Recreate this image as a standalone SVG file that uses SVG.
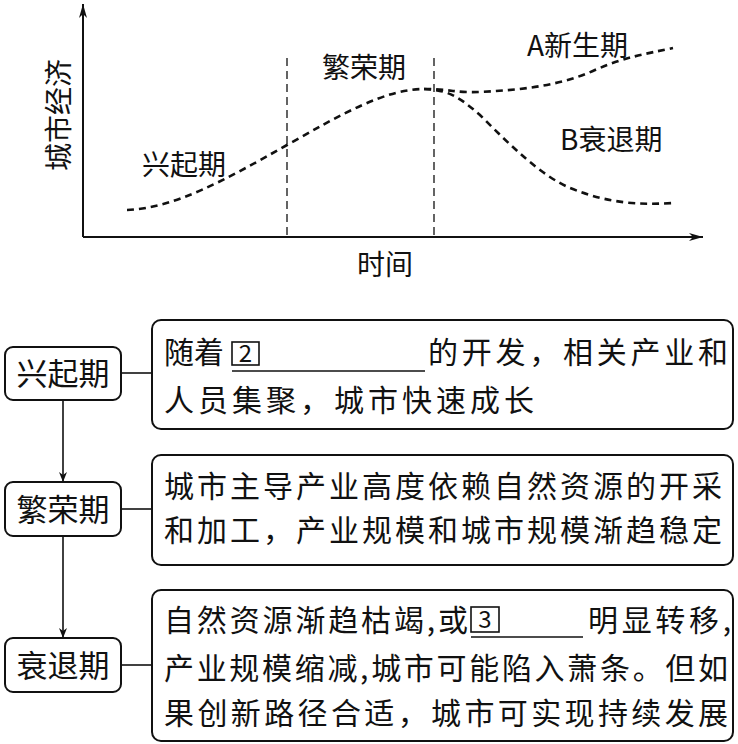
<svg xmlns="http://www.w3.org/2000/svg" width="738" height="744" viewBox="0 0 738 744">
<style>
text{font-family:"Noto Sans CJK SC","Noto Sans",sans-serif;fill:#111}
.cl{font-size:28px}
.bt{font-size:30px}
.nt{font-size:31px}
.axis{stroke:#111;stroke-width:2;fill:none}
.curve{stroke:#111;stroke-width:2.6;fill:none;stroke-dasharray:7 5}
.vd{stroke:#111;stroke-width:1.3;fill:none;stroke-dasharray:8 5}
.box{fill:#fff;stroke:#111;stroke-width:2}
.ln{stroke:#111;stroke-width:1.6;fill:none}
.blank{fill:none;stroke:#111;stroke-width:1.6}
</style>
<defs>
<marker id="ah" viewBox="0 0 10 10" refX="10" refY="5" markerWidth="10" markerHeight="10" markerUnits="userSpaceOnUse" orient="auto">
<path d="M0,1 L10,5 L0,9 L3,5 Z" fill="#111"/>
</marker>
<marker id="ax" viewBox="0 0 14 10" refX="14" refY="5" markerWidth="14" markerHeight="10" markerUnits="userSpaceOnUse" orient="auto">
<path d="M0,1 L14,5 L0,9 L4,5 Z" fill="#111"/>
</marker>
</defs>
<rect width="738" height="744" fill="#fff"/>
<g id="chart">
<line class="axis" x1="83" y1="237" x2="83" y2="4" marker-end="url(#ax)"/>
<line class="axis" x1="83" y1="237" x2="703" y2="237" marker-end="url(#ax)"/>
<line class="vd" x1="287" y1="58" x2="287" y2="237"/>
<line class="vd" x1="434" y1="58" x2="434" y2="237"/>
<path class="curve" d="M127,210 C175,208 225,180 287,145 C340,115 385,89 424,89"/>
<path class="curve" d="M424,89 C450,89 455,93 480,92 C520,90 560,86 595,70 C625,57 645,54 673,48"/>
<path class="curve" d="M424,89 C450,90 460,98 480,115 C510,145 540,175 570,188 C610,204 640,205 673,203"/>
<text class="cl" transform="translate(69,115) rotate(-90)" text-anchor="middle">城市经济</text>
<text class="cl" x="142" y="175">兴起期</text>
<text class="cl" x="322" y="78">繁荣期</text>
<text class="cl" x="527" y="56">A新生期</text>
<text class="cl" x="560" y="150">B衰退期</text>
<text class="cl" x="357" y="275">时间</text>
</g>
<g id="connectors">
<line class="ln" x1="63" y1="400" x2="63" y2="482" marker-end="url(#ah)"/>
<line class="ln" x1="63" y1="536" x2="63" y2="638" marker-end="url(#ah)"/>
<line class="ln" x1="121" y1="373" x2="152" y2="373"/>
<line class="ln" x1="121" y1="509" x2="152" y2="509"/>
<line class="ln" x1="121" y1="665" x2="152" y2="665"/>
</g>
<g id="node-xingqi">
<rect class="box" x="5" y="347" width="116" height="53" rx="8"/>
<text class="nt" x="63" y="385" text-anchor="middle">兴起期</text>
</g>
<g id="desc-xingqi">
<rect class="box" x="152" y="320" width="581" height="109" rx="9"/>
<text class="bt" x="164" y="363">随着</text>
<rect class="blank" x="232" y="342" width="27" height="23"/>
<text x="245.5" y="362" text-anchor="middle" style="font-size:24px">2</text>
<line class="ln" x1="232" y1="371" x2="425" y2="371"/>
<text class="bt" x="428" y="363" textLength="300" lengthAdjust="spacing">的开发，相关产业和</text>
<text class="bt" x="164" y="411" textLength="370" lengthAdjust="spacing">人员集聚，城市快速成长</text>
</g>
<g id="node-fanrong">
<rect class="box" x="5" y="482" width="116" height="54" rx="8"/>
<text class="nt" x="63" y="521" text-anchor="middle">繁荣期</text>
</g>
<g id="desc-fanrong">
<rect class="box" x="152" y="455" width="581" height="110" rx="9"/>
<text class="bt" x="164" y="497" textLength="558" lengthAdjust="spacing">城市主导产业高度依赖自然资源的开采</text>
<text class="bt" x="164" y="541" textLength="558" lengthAdjust="spacing">和加工，产业规模和城市规模渐趋稳定</text>
</g>
<g id="node-shuaitui">
<rect class="box" x="5" y="638" width="116" height="54" rx="8"/>
<text class="nt" x="63" y="677" text-anchor="middle">衰退期</text>
</g>
<g id="desc-shuaitui">
<rect class="box" x="152" y="590" width="581" height="151" rx="9"/>
<text class="bt" x="164" y="631" textLength="304" lengthAdjust="spacing">自然资源渐趋枯竭,或</text>
<rect class="blank" x="471" y="607" width="28" height="25"/>
<text x="485" y="628" text-anchor="middle" style="font-size:24px">3</text>
<line class="ln" x1="471" y1="637" x2="583" y2="637"/>
<text class="bt" x="588" y="631" textLength="143" lengthAdjust="spacing">明显转移,</text>
<text class="bt" x="164" y="679" textLength="564" lengthAdjust="spacing">产业规模缩减,城市可能陷入萧条。但如</text>
<text class="bt" x="164" y="724" textLength="564" lengthAdjust="spacing">果创新路径合适，城市可实现持续发展</text>
</g>
</svg>
